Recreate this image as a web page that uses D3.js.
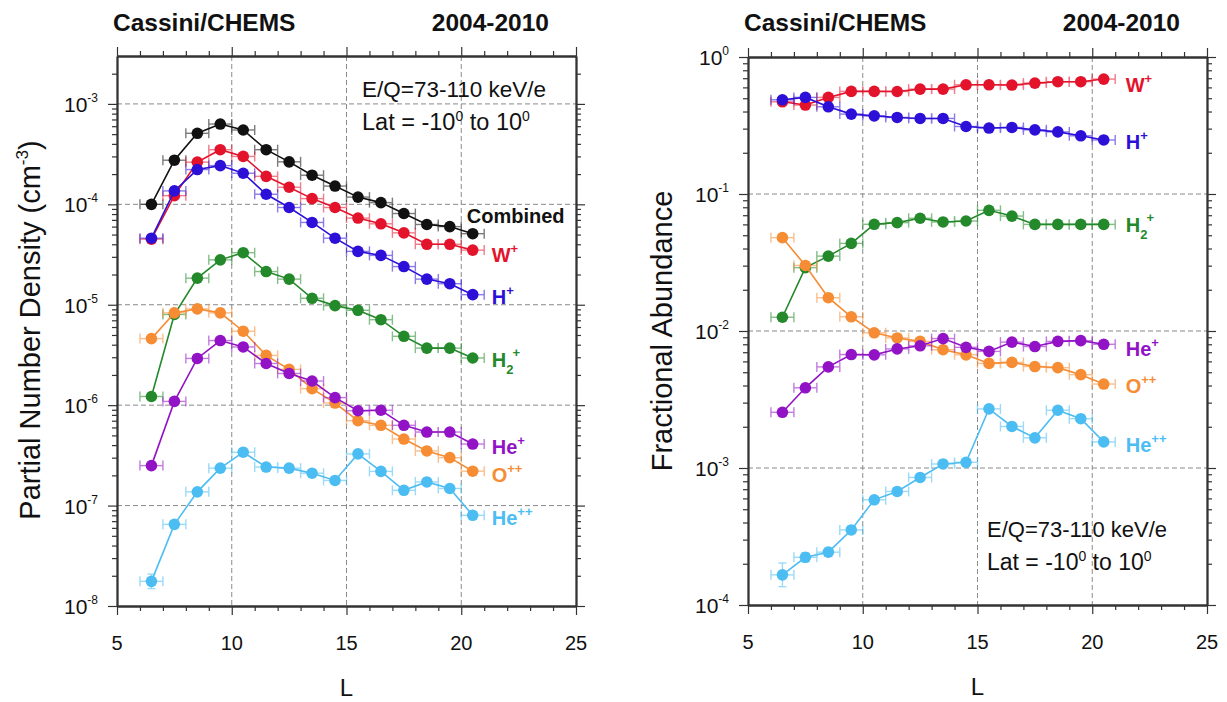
<!DOCTYPE html>
<html>
<head>
<meta charset="utf-8">
<script src="https://cdn.jsdelivr.net/npm/d3@7"></script>
<style>
  body { margin: 0; background: #fff; }
  svg { font-family: "Liberation Sans", Arial, Helvetica, sans-serif; }
</style>
</head>
<body>
<svg id="chart" width="1227" height="702"></svg>
<script>
// L-shell bin centres (each bin is 1 L wide)
const L_BINS = [6.5, 7.5, 8.5, 9.5, 10.5, 11.5, 12.5, 13.5, 14.5, 15.5, 16.5, 17.5, 18.5, 19.5, 20.5];

// Partial number density, cm^-3
const densityCombined = [1.0e-4, 2.75e-4, 5.1e-4, 6.3e-4, 5.5e-4, 3.5e-4, 2.65e-4, 1.95e-4, 1.52e-4, 1.18e-4, 1.04e-4, 8.1e-5, 6.3e-5, 6.0e-5, 5.1e-5];
const densityW   = [4.5e-5, 1.22e-4, 2.63e-4, 3.5e-4, 3.0e-4, 1.9e-4, 1.48e-4, 1.14e-4, 9.3e-5, 7.3e-5, 6.4e-5, 5.2e-5, 4.0e-5, 4.0e-5, 3.5e-5];
const densityH   = [4.6e-5, 1.36e-4, 2.22e-4, 2.43e-4, 2.04e-4, 1.26e-4, 9.3e-5, 6.6e-5, 4.6e-5, 3.4e-5, 3.1e-5, 2.4e-5, 1.8e-5, 1.62e-5, 1.26e-5];
const densityH2  = [1.22e-6, 8.0e-6, 1.84e-5, 2.8e-5, 3.3e-5, 2.14e-5, 1.8e-5, 1.16e-5, 9.8e-6, 8.8e-6, 7.1e-6, 4.85e-6, 3.7e-6, 3.7e-6, 2.95e-6];
const densityO   = [4.6e-6, 8.3e-6, 9.1e-6, 8.3e-6, 5.45e-6, 3.13e-6, 2.27e-6, 1.46e-6, 1.05e-6, 7.0e-7, 6.3e-7, 4.6e-7, 3.5e-7, 3.0e-7, 2.2e-7];
const densityHe  = [2.5e-7, 1.09e-6, 2.92e-6, 4.4e-6, 3.8e-6, 2.6e-6, 2.07e-6, 1.74e-6, 1.19e-6, 8.8e-7, 8.9e-7, 6.3e-7, 5.4e-7, 5.4e-7, 4.1e-7];
const densityHe2 = [1.76e-8, 6.5e-8, 1.37e-7, 2.36e-7, 3.4e-7, 2.42e-7, 2.36e-7, 2.1e-7, 1.78e-7, 3.27e-7, 2.19e-7, 1.42e-7, 1.72e-7, 1.48e-7, 8.0e-8];

// Fractional abundance relative to the combined density
const abundanceW   = [0.471, 0.446, 0.507, 0.561, 0.561, 0.56, 0.583, 0.583, 0.627, 0.627, 0.624, 0.645, 0.66, 0.66, 0.69];
const abundanceH   = [0.487, 0.507, 0.433, 0.383, 0.372, 0.362, 0.356, 0.356, 0.311, 0.303, 0.306, 0.294, 0.284, 0.266, 0.248];
const abundanceH2  = [0.0126, 0.029, 0.0352, 0.0436, 0.0601, 0.0618, 0.0665, 0.0625, 0.0635, 0.076, 0.069, 0.060, 0.060, 0.060, 0.060];
const abundanceO   = [0.048, 0.0301, 0.0175, 0.0127, 0.0097, 0.0089, 0.0084, 0.0073, 0.0067, 0.0058, 0.0059, 0.0055, 0.0054, 0.0048, 0.0041];
const abundanceHe  = [0.00255, 0.00385, 0.00547, 0.00673, 0.0067, 0.0074, 0.0078, 0.0088, 0.0076, 0.0071, 0.0083, 0.0077, 0.0084, 0.0085, 0.0080];
const abundanceHe2 = [1.66e-4, 2.23e-4, 2.43e-4, 3.53e-4, 5.86e-4, 6.74e-4, 8.53e-4, 1.07e-3, 1.1e-3, 2.7e-3, 2.01e-3, 1.66e-3, 2.64e-3, 2.29e-3, 1.55e-3];

// Statistical uncertainty of the He++ values (multiplicative factor)
const abundanceHe2Err = [1.22, 1.08, 1.07, 1.06, 1.05, 1.05, 1.04, 1.04, 1.04, 1.04, 1.04, 1.04, 1.04, 1.04, 1.04];
const densityHe2Err   = [1.18, 1.06, 1.05, 1.04, 1.04, 1.04, 1.04, 1.04, 1.04, 1.04, 1.04, 1.04, 1.04, 1.04, 1.04];

// Axis ticks
const X_MAJOR = [5, 10, 15, 20, 25];
const X_GRID = [10, 15, 20];
const DENSITY_DECADES = [-8, -7, -6, -5, -4, -3];
const ABUNDANCE_DECADES = [-4, -3, -2, -1, 0];

// Species styling
const COLORS = {
  combined: "#111111", W: "#e3132c", H: "#2c10d8", H2: "#23892a",
  O: "#f68c33", He: "#9212c6", He2: "#4cbdf2"
};

const svg = d3.select("#chart");

function labelTspans(sel, base, sup, sub) {
  sel.append("tspan").text(base);
  if (sub) sel.append("tspan").attr("dy", 7).attr("font-size", "0.65em").text(sub);
  if (sup) sel.append("tspan").attr("dy", sub ? -17 : -9).attr("dx", sub ? -1 : 0).attr("font-size", "0.65em").text(sup);
}

function drawPanel(cfg) {
  const g = svg.append("g");
  const x = d3.scaleLinear().domain([5, 25]).range([cfg.left, cfg.right]);
  const y = d3.scaleLog().domain(cfg.yDomain).range([cfg.bottom, cfg.top]);
  const [yLo, yHi] = cfg.yDomain;

  // dashed grid
  const grid = g.append("g").attr("stroke", "#8a8a8a").attr("stroke-width", 1).attr("stroke-dasharray", "5,3");
  X_GRID.forEach(v => grid.append("line").attr("x1", x(v)).attr("x2", x(v)).attr("y1", cfg.top).attr("y2", cfg.bottom));
  cfg.decades.forEach(d => {
    const v = Math.pow(10, d);
    if (v > yLo && v < yHi) grid.append("line").attr("x1", cfg.left).attr("x2", cfg.right).attr("y1", y(v)).attr("y2", y(v));
  });

  // minor log ticks
  const yMinor = [];
  cfg.decades.forEach(d => { for (let m = 2; m <= 9; m++) { const v = m * Math.pow(10, d); if (v > yLo && v < yHi) yMinor.push(v); } });
  const yMajor = cfg.decades.map(d => Math.pow(10, d)).filter(v => v >= yLo * 0.999 && v <= yHi * 1.001);
  const xMinor = d3.range(5, 26).filter(v => v % 5 !== 0);

  const axisStyle = sel => {
    sel.selectAll("path.domain").attr("stroke", "#333").attr("stroke-width", 1.8);
    sel.selectAll(".tick line").attr("stroke", "#333").attr("stroke-width", 1.2);
    sel.selectAll(".tick text").remove();
  };
  const mk = (axisFn, scale, vals, size, tr) => g.append("g").attr("transform", tr)
      .call(axisFn(scale).tickValues(vals).tickSize(size).tickSizeOuter(0).tickFormat(""))
      .call(axisStyle);

  mk(d3.axisBottom, x, xMinor, 5, `translate(0,${cfg.bottom})`);
  mk(d3.axisBottom, x, X_MAJOR, 9, `translate(0,${cfg.bottom})`);
  mk(d3.axisTop, x, xMinor, 5, `translate(0,${cfg.top})`);
  mk(d3.axisTop, x, X_MAJOR, 9, `translate(0,${cfg.top})`);
  mk(d3.axisLeft, y, yMinor, 5, `translate(${cfg.left},0)`);
  mk(d3.axisLeft, y, yMajor, 9, `translate(${cfg.left},0)`);
  mk(d3.axisRight, y, yMinor, 5, `translate(${cfg.right},0)`);
  mk(d3.axisRight, y, yMajor, 9, `translate(${cfg.right},0)`);

  // tick labels
  X_MAJOR.forEach(v => g.append("text").attr("x", x(v)).attr("y", cfg.bottom + 44)
    .attr("text-anchor", "middle").attr("font-size", 20).attr("fill", "#111").text(v));
  yMajor.forEach(v => {
    const t = g.append("text").attr("x", cfg.left - 19).attr("y", y(v) + 8)
      .attr("text-anchor", "end").attr("font-size", 21).attr("fill", "#111");
    t.append("tspan").text("10");
    t.append("tspan").attr("dy", -10).attr("font-size", 12).text(String(Math.round(Math.log10(v))));
  });

  // axis titles
  g.append("text").attr("x", (cfg.left + cfg.right) / 2).attr("y", cfg.bottom + 90)
    .attr("text-anchor", "middle").attr("font-size", 24).attr("fill", "#111").text("L");
  const yt = g.append("text").attr("transform", `translate(${cfg.yTitleX},${cfg.yTitleY}) rotate(-90)`)
    .attr("text-anchor", "middle").attr("font-size", 29).attr("fill", "#111");
  cfg.yTitle(yt);

  // header
  g.append("text").attr("x", cfg.left - 4).attr("y", 31).attr("font-size", 24.5).attr("font-weight", "bold")
    .attr("fill", "#111").text("Cassini/CHEMS");
  g.append("text").attr("x", cfg.right - 27).attr("y", 31).attr("text-anchor", "end").attr("font-size", 24.5)
    .attr("font-weight", "bold").attr("fill", "#111").text("2004-2010");

  // energy / latitude annotation
  const ann = g.append("g").attr("fill", "#111");
  ann.append("text").attr("x", cfg.annX).attr("y", cfg.annY).attr("font-size", cfg.annSize).text("E/Q=73-110 keV/e");
  const lat = ann.append("text").attr("x", cfg.annX).attr("y", cfg.annY + 33).attr("font-size", cfg.annSize + 1);
  lat.append("tspan").text("Lat = -10");
  lat.append("tspan").attr("dy", -9).attr("font-size", 14).text("0");
  lat.append("tspan").attr("dy", 9).text(" to 10");
  lat.append("tspan").attr("dy", -9).attr("font-size", 14).text("0");

  // series
  const line = d3.line().x(d => x(d.L)).y(d => y(d.v));
  cfg.series.forEach(s => {
    const pts = L_BINS.map((Lv, i) => ({ L: Lv, v: s.values[i], e: s.err ? s.err[i] : null }));
    const sg = g.append("g");
    // horizontal bin-width bars
    const eb = sg.append("g").attr("stroke", s.color).attr("stroke-width", 1.4).attr("opacity", 0.55);
    pts.forEach(p => {
      const cy = y(p.v);
      eb.append("line").attr("x1", x(p.L - 0.5)).attr("x2", x(p.L + 0.5)).attr("y1", cy).attr("y2", cy);
      [p.L - 0.5, p.L + 0.5].forEach(c => eb.append("line").attr("x1", x(c)).attr("x2", x(c)).attr("y1", cy - 5).attr("y2", cy + 5));
      if (p.e) {
        const ya = y(p.v * p.e), yb = y(p.v / p.e);
        eb.append("line").attr("x1", x(p.L)).attr("x2", x(p.L)).attr("y1", ya).attr("y2", yb);
        [ya, yb].forEach(yy => eb.append("line").attr("x1", x(p.L) - 4).attr("x2", x(p.L) + 4).attr("y1", yy).attr("y2", yy));
      }
    });
    sg.append("path").datum(pts).attr("d", line).attr("fill", "none").attr("stroke", s.color).attr("stroke-width", 1.6);
    sg.selectAll("circle").data(pts).join("circle").attr("cx", d => x(d.L)).attr("cy", d => y(d.v))
      .attr("r", 5.8).attr("fill", s.color);
    // species label next to the last bin
    const last = pts[pts.length - 1];
    const t = g.append("text").attr("x", x(last.L) + s.dx).attr("y", y(last.v) + s.dy)
      .attr("font-size", 20).attr("font-weight", "bold").attr("fill", s.color);
    labelTspans(t, s.label, s.sup, s.sub);
  });
}

drawPanel({
  left: 117, right: 576, top: 56, bottom: 606,
  yDomain: [1e-8, 3e-3], decades: DENSITY_DECADES, yTitleX: 40, yTitleY: 330,
  yTitle: t => { t.append("tspan").text("Partial Number Density (cm");
                 t.append("tspan").attr("dy", -12).attr("font-size", 17).text("-3");
                 t.append("tspan").attr("dy", 12).text(")"); },
  annX: 362, annY: 97, annSize: 22.5,
  series: [
    { values: densityCombined, color: COLORS.combined, label: "Combined", dx: -6, dy: -11 },
    { values: densityW, color: COLORS.W, label: "W", sup: "+", dx: 19, dy: 12 },
    { values: densityH, color: COLORS.H, label: "H", sup: "+", dx: 19, dy: 9 },
    { values: densityH2, color: COLORS.H2, label: "H", sub: "2", sup: "+", dx: 19, dy: 9 },
    { values: densityO, color: COLORS.O, label: "O", sup: "++", dx: 19, dy: 11 },
    { values: densityHe, color: COLORS.He, label: "He", sup: "+", dx: 19, dy: 10 },
    { values: densityHe2, color: COLORS.He2, label: "He", sup: "++", dx: 19, dy: 10, err: densityHe2Err }
  ]
});

drawPanel({
  left: 748, right: 1207, top: 57, bottom: 605,
  yDomain: [1e-4, 1], decades: ABUNDANCE_DECADES, yTitleX: 672, yTitleY: 331,
  yTitle: t => t.text("Fractional Abundance"),
  annX: 987, annY: 537, annSize: 22,
  series: [
    { values: abundanceW, color: COLORS.W, label: "W", sup: "+", dx: 22, dy: 13 },
    { values: abundanceH, color: COLORS.H, label: "H", sup: "+", dx: 22, dy: 9 },
    { values: abundanceH2, color: COLORS.H2, label: "H", sub: "2", sup: "+", dx: 22, dy: 8 },
    { values: abundanceO, color: COLORS.O, label: "O", sup: "++", dx: 22, dy: 9 },
    { values: abundanceHe, color: COLORS.He, label: "He", sup: "+", dx: 22, dy: 12 },
    { values: abundanceHe2, color: COLORS.He2, label: "He", sup: "++", dx: 22, dy: 10, err: abundanceHe2Err }
  ]
});
</script>
</body>
</html>
